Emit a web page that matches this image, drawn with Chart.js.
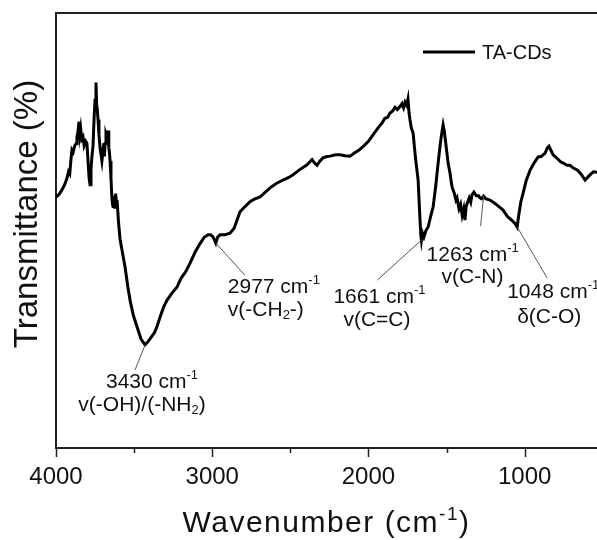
<!DOCTYPE html>
<html>
<head>
<meta charset="utf-8">
<script src="https://cdn.jsdelivr.net/npm/chart.js@4.4.0/dist/chart.umd.min.js"></script>
<style>
  body { margin: 0; background: #fff; }
  #wrap { width: 597px; height: 540px; }
</style>
</head>
<body>
<div id="wrap"><canvas id="ftir" width="597" height="540"></canvas></div>
<script>
// FTIR spectrum of TA-CDs
const seriesName = 'TA-CDs';

const wavenumber = [
  4000, 3980, 3960, 3945, 3930, 3920, 3912, 3905, 3898, 3890, 3880, 3870, 3866, 3860, 3853, 3848,
  3842, 3835, 3827, 3820, 3810, 3802, 3795, 3788, 3782, 3776, 3770, 3763, 3756, 3750, 3744, 3740,
  3736, 3731, 3725, 3718, 3712, 3706, 3700, 3694, 3690, 3686, 3680, 3672, 3667, 3662, 3658, 3654,
  3648, 3643, 3638, 3635, 3630, 3624, 3618, 3612, 3609, 3600, 3590, 3575, 3558, 3540, 3526, 3505,
  3481, 3455, 3430, 3410, 3390, 3370, 3353, 3330, 3310, 3289, 3260, 3225, 3200, 3170, 3142, 3110,
  3078, 3050, 3027, 3010, 2995, 2985, 2977, 2965, 2950, 2920, 2886, 2860, 2841, 2822, 2790, 2758,
  2730, 2694, 2660, 2630, 2590, 2547, 2510, 2483, 2440, 2393, 2375, 2361, 2345, 2329, 2310, 2291,
  2265, 2246, 2210, 2182, 2150, 2118, 2090, 2060, 2035, 2000, 1971, 1950, 1930, 1913, 1895, 1878,
  1862, 1845, 1830, 1815, 1798, 1785, 1775, 1765, 1755, 1747, 1740, 1734, 1725, 1714, 1700, 1682,
  1672, 1665, 1661, 1655, 1645, 1632, 1618, 1600, 1586, 1570, 1554, 1540, 1530, 1522, 1515, 1505,
  1490, 1478, 1465, 1450, 1440, 1433, 1420, 1410, 1400, 1390, 1382, 1375, 1365, 1355, 1345, 1337,
  1325, 1310, 1295, 1286, 1275, 1263, 1250, 1222, 1190, 1165, 1138, 1110, 1080, 1060, 1048, 1038,
  1025, 1010, 990, 965, 940, 914, 895, 869, 855, 844, 833, 818, 790, 770, 754, 730,
  710, 690, 660, 640, 613, 590, 560, 537
];

const transmittance = [
  57.7, 58.3, 59.5, 60.5, 62.0, 63.5, 63.0, 66.0, 68.5, 68.0, 69.5, 70.0, 71.5, 72.5, 75.0, 72.0,
  73.5, 71.0, 71.5, 69.5, 70.5, 70.0, 66.0, 62.0, 60.5, 64.0, 67.0, 69.5, 76.0, 80.0, 84.0, 79.0,
  78.0, 75.5, 72.0, 69.0, 67.5, 66.0, 68.0, 70.0, 67.0, 70.0, 72.0, 71.0, 73.0, 69.0, 68.0, 66.0,
  62.0, 58.0, 56.0, 55.5, 58.0, 55.0, 58.5, 56.0, 57.0, 52.0, 48.0, 45.0, 41.6, 37.0, 34.0, 30.5,
  27.8, 25.0, 23.7, 24.5, 25.5, 26.5, 28.0, 30.5, 32.5, 34.0, 35.5, 37.0, 39.0, 40.5, 42.5, 45.0,
  47.0, 48.5, 49.0, 49.0, 48.5, 47.8, 47.1, 48.5, 49.0, 49.0, 49.4, 50.5, 52.4, 54.3, 55.5, 56.6,
  57.2, 57.7, 58.8, 59.8, 60.8, 61.6, 62.2, 62.8, 64.0, 65.1, 65.8, 66.3, 65.5, 65.0, 66.0, 66.7,
  67.0, 67.1, 67.4, 67.4, 67.2, 67.1, 67.8, 68.5, 69.3, 70.5, 72.0, 73.0, 74.0, 74.7, 75.8, 76.0,
  77.0, 77.5, 78.3, 77.8, 78.5, 79.2, 78.2, 79.5, 78.8, 80.2, 77.0, 75.4, 73.5, 72.4, 67.0, 61.6,
  54.0, 49.0, 47.8, 49.5, 48.5, 50.0, 50.8, 53.5, 55.4, 60.0, 65.5, 70.0, 72.5, 74.3, 73.0, 70.0,
  65.5, 63.2, 60.0, 58.5, 57.0, 57.5, 55.0, 56.0, 53.5, 55.0, 52.4, 55.5, 56.5, 57.5, 56.5, 58.2,
  58.8, 58.0, 58.0, 57.5, 57.3, 57.9, 57.3, 57.0, 56.2, 55.5, 54.7, 53.2, 52.3, 51.5, 50.8, 53.5,
  56.5, 58.6, 61.5, 63.9, 65.5, 66.9, 67.0, 67.8, 69.0, 69.4, 68.5, 67.4, 66.5, 65.8, 65.5, 65.0,
  65.0, 64.4, 63.8, 63.0, 61.6, 62.5, 63.5, 63.4
];

const xTicks = [4000, 3500, 3000, 2500, 2000, 1500, 1000];
const xTickLabels = ['4000', '', '3000', '', '2000', '', '1000'];

// peak labels: position of the peak, then text lines
const peakWn = [3430, 2977, 1661, 1263, 1048];
const peakLine1 = ['3430', '2977', '1661', '1263', '1048'];
const peakLine2 = [
  [['v(-OH)/(-NH', 'n'], ['2', 'sub'], [')', 'n']],
  [['v(-CH', 'n'], ['2', 'sub'], ['-)', 'n']],
  [['v(C=C)', 'n']],
  [['v(C-N)', 'n']],
  [['δ(C-O)', 'n']]
];

// offsets (px) from the peak point: leader end, line1 anchor, line2 anchor, align
const peakLayout = [
  { lx: -10, ly: 25, t1x: 7, t1y: 37, t2x: -3, t2y: 60, align: 'center' },
  { lx: 29, ly: 32, t1x: 12, t1y: 44, t2x: 12, t2y: 67, align: 'left' },
  { lx: -44, ly: 40, t1x: -88, t1y: 57, t2x: -78, t2y: 80, align: 'left' },
  { lx: -3, ly: 30, t1x: -57, t1y: 59, t2x: -42, t2y: 81, align: 'left' },
  { lx: 30, ly: 51, t1x: -10, t1y: 65, t2x: 0, t2y: 90, align: 'left' }
];

const FONT = '"Liberation Sans", Arial, sans-serif';

function richWidth(ctx, segs, size) {
  let w = 0;
  segs.forEach(([t, k]) => {
    ctx.font = (k === 'n' ? size : Math.round(size * 0.62)) + 'px ' + FONT;
    w += ctx.measureText(t).width;
  });
  return w;
}

function drawRich(ctx, segs, x, y, size, align) {
  ctx.textBaseline = 'middle';
  ctx.textAlign = 'left';
  let cx = align === 'center' ? x - richWidth(ctx, segs, size) / 2 : x;
  segs.forEach(([t, k]) => {
    let dy = 0;
    if (k === 'n') ctx.font = size + 'px ' + FONT;
    else ctx.font = Math.round(size * 0.62) + 'px ' + FONT;
    if (k === 'sup') dy = -size * 0.3;
    if (k === 'sub') dy = size * 0.25;
    ctx.fillText(t, cx, y + dy);
    cx += ctx.measureText(t).width;
  });
}

function valueAt(w) {
  const i = wavenumber.indexOf(w);
  return transmittance[i];
}

const decor = {
  id: 'decor',
  afterDraw(chart) {
    const ctx = chart.ctx;
    const xs = chart.scales.x, ys = chart.scales.y;
    const area = chart.chartArea;
    ctx.save();
    ctx.fillStyle = '#111';
    ctx.strokeStyle = '#222';

    // top border
    ctx.lineWidth = 2;
    ctx.beginPath();
    ctx.moveTo(area.left, area.top);
    ctx.lineTo(area.right, area.top);
    ctx.stroke();

    // tick marks, pointing out
    xTicks.forEach((v, i) => {
      const px = Math.round(xs.getPixelForValue(v)) + 0.5;
      const len = xTickLabels[i] ? 9 : 5;
      ctx.lineWidth = 1.5;
      ctx.beginPath();
      ctx.moveTo(px, area.bottom);
      ctx.lineTo(px, area.bottom + len);
      ctx.stroke();
    });

    // peak labels
    peakWn.forEach((w, i) => {
      const L = peakLayout[i];
      const px = xs.getPixelForValue(w);
      const py = ys.getPixelForValue(valueAt(w));
      ctx.strokeStyle = '#555';
      ctx.lineWidth = 1;
      ctx.beginPath();
      ctx.moveTo(px, py);
      ctx.lineTo(px + L.lx, py + L.ly);
      ctx.stroke();
      ctx.fillStyle = '#111';
      drawRich(ctx, [[peakLine1[i] + ' cm', 'n'], ['-1', 'sup']], px + L.t1x, py + L.t1y, 21, L.align);
      drawRich(ctx, peakLine2[i], px + L.t2x, py + L.t2y, 21, L.align);
    });

    // legend
    ctx.strokeStyle = '#000';
    ctx.lineWidth = 3;
    ctx.beginPath();
    ctx.moveTo(423, 52);
    ctx.lineTo(475, 52);
    ctx.stroke();
    ctx.font = '20px ' + FONT;
    ctx.textAlign = 'left';
    ctx.textBaseline = 'middle';
    ctx.fillText(seriesName, 482, 53);

    // axis titles
    ctx.letterSpacing = '1.5px';
    drawRich(ctx, [['Wavenumber (cm', 'n'], ['-1', 'sup'], [')', 'n']], (area.left + area.right) / 2, 524, 30, 'center');
    ctx.letterSpacing = '0px';
    ctx.translate(28, 214);
    ctx.rotate(-Math.PI / 2);
    ctx.font = '33px ' + FONT;
    ctx.textAlign = 'center';
    ctx.textBaseline = 'middle';
    ctx.fillText('Transmittance (%)', 0, 0);
    ctx.restore();
  }
};

new Chart(document.getElementById('ftir'), {
  type: 'line',
  data: {
    datasets: [{
      label: seriesName,
      data: wavenumber.map((w, i) => ({ x: w, y: transmittance[i] })),
      borderColor: '#000',
      borderWidth: 3,
      pointRadius: 0,
      tension: 0,
      fill: false
    }]
  },
  options: {
    responsive: false,
    animation: false,
    layout: { padding: { top: 13, right: 0, left: 0, bottom: 0 } },
    plugins: { legend: { display: false }, tooltip: { enabled: false } },
    scales: {
      x: {
        type: 'linear',
        reverse: true,
        min: 537,
        max: 4000,
        afterBuildTicks(scale) { scale.ticks = xTicks.map(v => ({ value: v })); },
        afterFit(scale) { scale.height = 92; },
        grid: { display: false, drawTicks: false },
        border: { display: true, color: '#222', width: 2 },
        ticks: {
          padding: 15,
          color: '#111',
          font: { family: FONT, size: 24 },
          maxRotation: 0,
          autoSkip: false,
          callback: (v) => xTickLabels[xTicks.indexOf(v)]
        }
      },
      y: {
        min: 0,
        max: 100,
        afterFit(scale) { scale.width = 56; },
        grid: { display: false, drawTicks: false },
        border: { display: true, color: '#222', width: 2 },
        ticks: { display: false }
      }
    }
  },
  plugins: [decor]
});
</script>
</body>
</html>
